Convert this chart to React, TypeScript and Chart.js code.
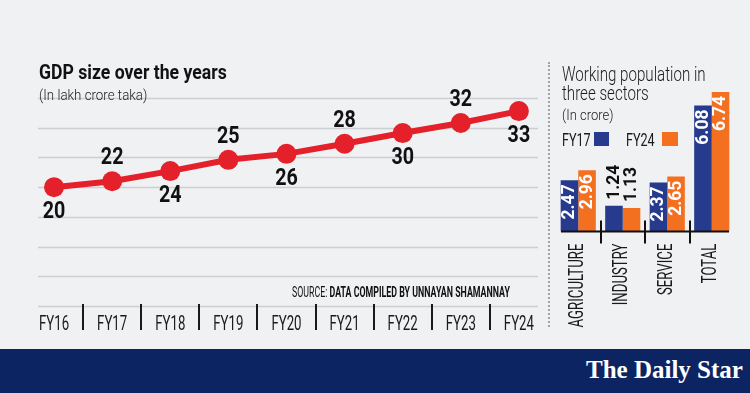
import React, { useEffect, useRef } from "react";
import { Chart, registerables } from "chart.js";

Chart.register(...registerables);

// ---------- data ----------
const fyLabels = ["FY16", "FY17", "FY18", "FY19", "FY20", "FY21", "FY22", "FY23", "FY24"];
const gdpValues = [20.0, 21.0, 22.7, 24.6, 25.6, 27.3, 29.1, 30.8, 32.8];
const gdpValueLabels = ["20", "22", "24", "25", "26", "28", "30", "32", "33"];
const gdpLabelAbove = [false, true, false, true, false, true, false, true, false];
const gdpTickStep = 5;
const gdpMax = 35;

const sectors = ["AGRICULTURE", "INDUSTRY", "SERVICE", "TOTAL"];
const seriesNames = ["FY17", "FY24"];
const fy17Values = [2.47, 1.24, 2.37, 6.08];
const fy24Values = [2.96, 1.13, 2.65, 6.74];
const workMax = 7;

// ---------- style ----------
const FONT = "Roboto, 'Noto Sans', sans-serif";
const BG = "#f0f1f3";
const RED = "#e4202b";
const BLUE = "#263a8e";
const ORANGE = "#f37021";
const NAVY = "#0c2462";

function drawText(
  ctx: CanvasRenderingContext2D,
  text: string,
  x: number,
  y: number,
  o: { font: string; color: string; align?: CanvasTextAlign; baseline?: CanvasTextBaseline; sx?: number; rot?: number }
) {
  ctx.save();
  ctx.translate(x, y);
  if (o.rot) ctx.rotate(o.rot);
  ctx.scale(o.sx ?? 1, 1);
  ctx.font = o.font;
  ctx.fillStyle = o.color;
  ctx.textAlign = o.align ?? "center";
  ctx.textBaseline = o.baseline ?? "alphabetic";
  ctx.fillText(text, 0, 0);
  ctx.restore();
}

const lineDecor = {
  id: "lineDecor",
  beforeDatasetsDraw(chart: any) {
    const ctx = chart.ctx as CanvasRenderingContext2D;
    const y = chart.scales.y;
    ctx.save();
    ctx.strokeStyle = "#cdced1";
    ctx.lineWidth = 1.5;
    y.ticks.forEach((t: any) => {
      const py = Math.round(y.getPixelForValue(t.value)) + 0.5;
      ctx.beginPath();
      ctx.moveTo(38, py);
      ctx.lineTo(538, py);
      ctx.stroke();
    });
    ctx.restore();
  },
  afterDatasetsDraw(chart: any) {
    const ctx = chart.ctx as CanvasRenderingContext2D;
    const x = chart.scales.x;
    const bottom = chart.chartArea.bottom;
    ctx.save();
    ctx.strokeStyle = "#1a1a1a";
    ctx.lineWidth = 2;
    for (let i = 0; i < fyLabels.length - 1; i++) {
      const px = Math.round(x.getPixelForValue(i + 0.5));
      ctx.beginPath();
      ctx.moveTo(px, bottom - 2);
      ctx.lineTo(px, bottom + 24);
      ctx.stroke();
    }
    ctx.restore();
    fyLabels.forEach((l, i) => {
      drawText(ctx, l, x.getPixelForValue(i), bottom + 24, {
        font: `400 21px ${FONT}`,
        color: "#1a1a1a",
        sx: 0.63,
      });
    });
    const meta = chart.getDatasetMeta(0);
    meta.data.forEach((el: any, i: number) => {
      const above = gdpLabelAbove[i];
      drawText(ctx, gdpValueLabels[i], el.x, el.y + (above ? -17 : 31), {
        font: `bold 24px ${FONT}`,
        color: "#111111",
        sx: 0.82,
      });
    });
  },
};

const barDecor = {
  id: "barDecor",
  afterDatasetsDraw(chart: any) {
    const ctx = chart.ctx as CanvasRenderingContext2D;
    const x = chart.scales.x;
    const { left, right, bottom } = chart.chartArea;
    ctx.save();
    ctx.strokeStyle = "#111111";
    ctx.lineWidth = 2;
    ctx.beginPath();
    ctx.moveTo(left + 5, bottom);
    ctx.lineTo(right - 5, bottom);
    ctx.stroke();
    for (let i = 0; i < sectors.length - 1; i++) {
      const px = Math.round((x.getPixelForTick(i) + x.getPixelForTick(i + 1)) / 2);
      ctx.beginPath();
      ctx.moveTo(px, bottom - 11);
      ctx.lineTo(px, bottom + 12);
      ctx.stroke();
    }
    ctx.restore();
    sectors.forEach((s, i) => {
      drawText(ctx, s, x.getPixelForTick(i) - 1, bottom + 12, {
        font: `400 21px ${FONT}`,
        color: "#1a1a1a",
        align: "right",
        baseline: "middle",
        rot: -Math.PI / 2,
        sx: 0.63,
      });
    });
    chart.data.datasets.forEach((ds: any, di: number) => {
      const meta = chart.getDatasetMeta(di);
      meta.data.forEach((el: any, i: number) => {
        const v = ds.data[i];
        const label = v.toFixed(2);
        const inside = v >= 1.5;
        drawText(ctx, label, el.x, inside ? el.y + 4 : el.y - 6, {
          font: `bold 19px ${FONT}`,
          color: inside ? "#ffffff" : "#111111",
          align: inside ? "right" : "left",
          baseline: "middle",
          rot: -Math.PI / 2,
          sx: 0.92,
        });
      });
    });
  },
};

function LineChart() {
  const ref = useRef<HTMLCanvasElement>(null);
  useEffect(() => {
    const chart = new Chart(ref.current!, {
      type: "line",
      data: {
        datasets: [
          {
            data: gdpValues.map((v, i) => ({ x: i, y: v })),
            borderColor: RED,
            backgroundColor: RED,
            borderWidth: 6,
            pointRadius: 10,
            pointBackgroundColor: RED,
            pointBorderWidth: 0,
          },
        ],
      },
      options: {
        responsive: false,
        animation: false,
        plugins: { legend: { display: false }, tooltip: { enabled: false } },
        layout: { padding: { left: 25, right: 14.5, top: 98, bottom: 0 } },
        scales: {
          x: {
            type: "linear",
            min: -0.5,
            max: 8.2,
            grid: { display: false },
            border: { display: false },
            ticks: { display: false },
            afterFit: (s: any) => {
              s.height = 42;
            },
          },
          y: {
            min: 0,
            max: gdpMax,
            ticks: { stepSize: gdpTickStep, display: false },
            grid: { display: false },
            border: { display: false },
            afterFit: (s: any) => {
              s.width = 0;
            },
          },
        },
      } as any,
      plugins: [lineDecor],
    });
    return () => chart.destroy();
  }, []);
  return <canvas ref={ref} width={545} height={348} style={{ position: "absolute", left: 0, top: 0 }} />;
}

function BarChart() {
  const ref = useRef<HTMLCanvasElement>(null);
  useEffect(() => {
    const chart = new Chart(ref.current!, {
      type: "bar",
      data: {
        labels: sectors,
        datasets: [
          { label: seriesNames[0], data: fy17Values, backgroundColor: BLUE, categoryPercentage: 0.79, barPercentage: 1 },
          { label: seriesNames[1], data: fy24Values, backgroundColor: ORANGE, categoryPercentage: 0.79, barPercentage: 1 },
        ],
      },
      options: {
        responsive: false,
        animation: false,
        plugins: { legend: { display: false }, tooltip: { enabled: false } },
        layout: { padding: { left: 11, right: 16, top: 86.5, bottom: 0 } },
        scales: {
          x: {
            grid: { display: false },
            border: { display: false },
            ticks: { display: false },
            afterFit: (s: any) => {
              s.height = 116.5;
            },
          },
          y: {
            min: 0,
            max: workMax,
            display: false,
          },
        },
      } as any,
      plugins: [barDecor],
    });
    return () => chart.destroy();
  }, []);
  return <canvas ref={ref} width={205} height={348} style={{ position: "absolute", left: 545, top: 0 }} />;
}

const abs = (s: React.CSSProperties): React.CSSProperties => ({ position: "absolute", whiteSpace: "nowrap", ...s });

export default function App() {
  return (
    <div
      style={{
        position: "fixed",
        left: 0,
        top: 0,
        width: 750,
        height: 393,
        background: BG,
        overflow: "hidden",
        fontFamily: FONT,
        color: "#1a1a1a",
      }}
    >
      <LineChart />
      <BarChart />
      <div
        style={abs({
          left: 39,
          top: 62.3,
          fontSize: 21,
          lineHeight: "21px",
          fontWeight: 700,
          color: "#111",
          transform: "scaleX(0.84)",
          transformOrigin: "left",
        })}
      >
        GDP size over the years
      </div>
      <div
        style={abs({
          left: 39,
          top: 86.7,
          fontSize: 15.5,
          lineHeight: "16px",
          fontWeight: 300,
          color: "#222",
          transform: "scaleX(0.86)",
          transformOrigin: "left",
        })}
      >
        (In lakh crore taka)
      </div>
      <div
        style={abs({
          right: 240,
          top: 285.2,
          fontSize: 14,
          lineHeight: "14px",
          color: "#111",
          transform: "scaleX(0.63)",
          transformOrigin: "right",
        })}
      >
        SOURCE: <b>DATA COMPILED BY UNNAYAN SHAMANNAY</b>
      </div>
      <div style={abs({ left: 548, top: 62, height: 265, width: 0, borderLeft: "2px dotted #a3a3a3" })} />
      <div
        style={abs({
          left: 562,
          top: 64.8,
          fontSize: 21,
          lineHeight: "19px",
          fontWeight: 300,
          color: "#1a1a1a",
          transform: "scaleX(0.72)",
          transformOrigin: "left",
        })}
      >
        Working population in
        <br />
        three sectors
      </div>
      <div
        style={abs({
          left: 562,
          top: 108.4,
          fontSize: 15,
          lineHeight: "15px",
          fontWeight: 300,
          color: "#222",
          transform: "scaleX(0.87)",
          transformOrigin: "left",
        })}
      >
        (In crore)
      </div>
      <div
        style={abs({
          left: 562,
          top: 130.9,
          fontSize: 18,
          lineHeight: "18px",
          fontWeight: 400,
          transform: "scaleX(0.7)",
          transformOrigin: "left",
        })}
      >
        {seriesNames[0]}
      </div>
      <div style={abs({ left: 594, top: 132, width: 15, height: 14, background: BLUE })} />
      <div
        style={abs({
          left: 626,
          top: 130.9,
          fontSize: 18,
          lineHeight: "18px",
          fontWeight: 400,
          transform: "scaleX(0.7)",
          transformOrigin: "left",
        })}
      >
        {seriesNames[1]}
      </div>
      <div style={abs({ left: 662, top: 132, width: 16, height: 14, background: ORANGE })} />
      <div style={abs({ left: 0, top: 349, width: 750, height: 44, background: NAVY })} />
      <div
        style={abs({
          left: 586,
          top: 356,
          fontSize: 25,
          lineHeight: "28px",
          fontWeight: 700,
          color: "#ffffff",
          fontFamily: "'Liberation Serif', 'DejaVu Serif', serif",
        })}
      >
        The Daily Star
      </div>
    </div>
  );
}
